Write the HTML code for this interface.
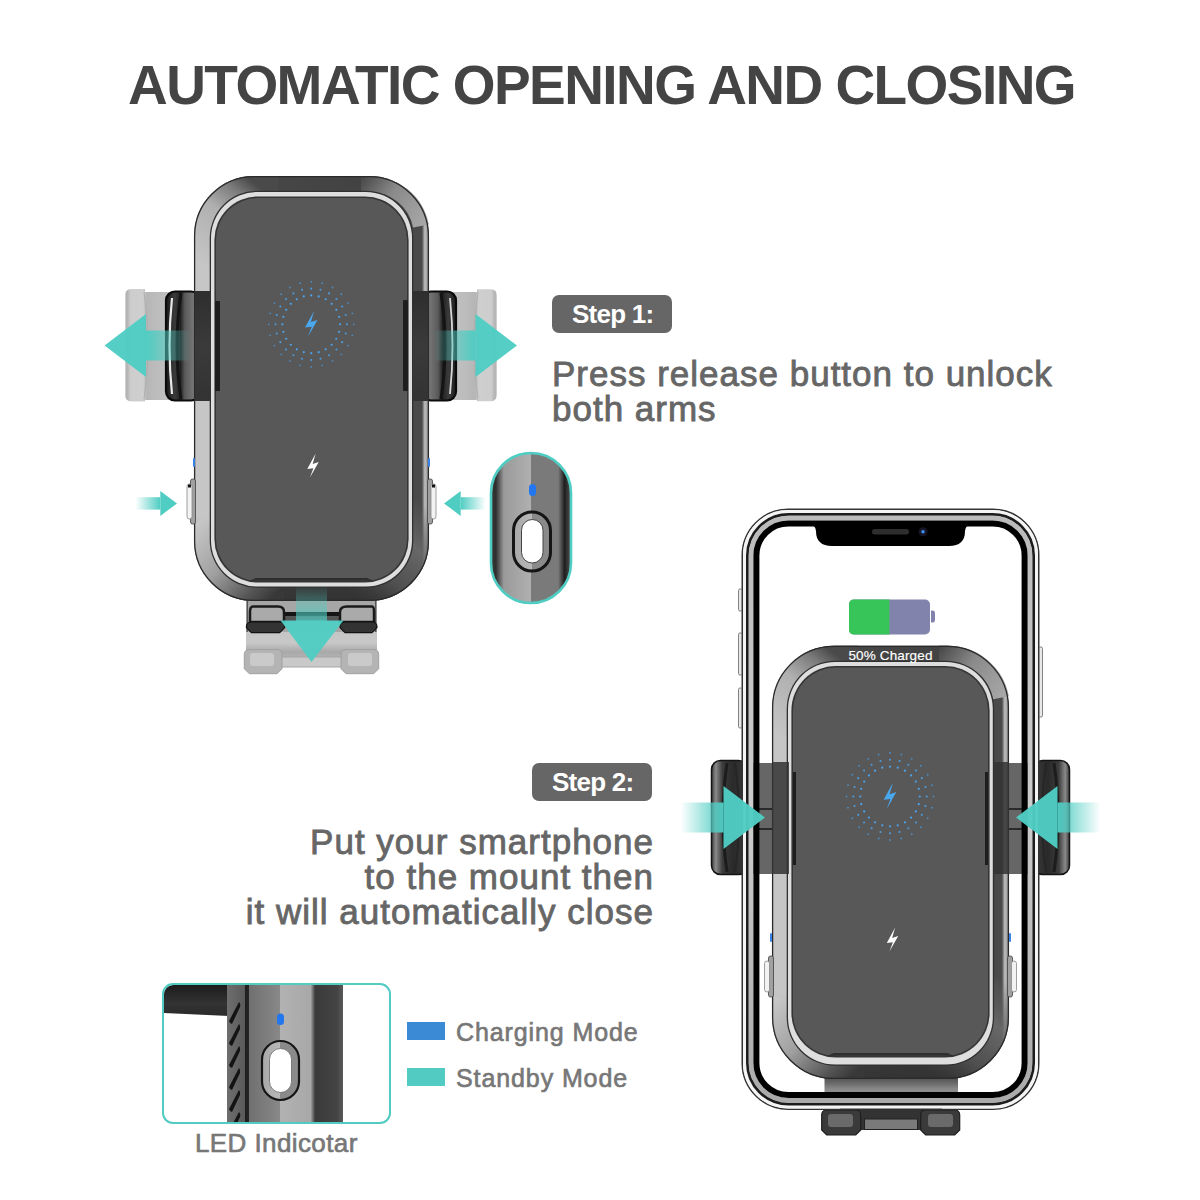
<!DOCTYPE html>
<html><head><meta charset="utf-8"><style>
html,body{margin:0;padding:0;}
body{width:1200px;height:1200px;background:#fff;position:relative;overflow:hidden;font-family:"Liberation Sans",sans-serif;}
svg{position:absolute;left:0;top:0;}
.t{position:absolute;white-space:nowrap;line-height:1;}
#title{left:128px;top:58px;font-size:55px;font-weight:bold;color:#444;letter-spacing:-1.55px;}
.badge{position:absolute;background:#666;border-radius:7px;color:#fff;font-weight:bold;}
#b1{left:552px;top:295px;width:120px;height:38px;}
#b2{left:532px;top:763px;width:120px;height:38px;}
.bt{position:absolute;font-size:26px;line-height:1;white-space:nowrap;letter-spacing:-0.75px;}
#s1{left:552px;top:356px;font-size:35px;color:#666;line-height:35px;letter-spacing:1px;-webkit-text-stroke:0.85px #666;}
#s2{right:546px;top:824px;font-size:35px;color:#666;line-height:35px;text-align:right;letter-spacing:1px;-webkit-text-stroke:0.85px #666;}
.lg{position:absolute;font-size:25px;color:#777;white-space:nowrap;line-height:1;letter-spacing:0.9px;-webkit-text-stroke:0.65px #777;}
.sw{position:absolute;left:407px;width:38px;height:18px;}
</style></head><body>
<svg width="1200" height="1200" viewBox="0 0 1200 1200">
<defs>
 <linearGradient id="frameL" x1="0" x2="1" y1="0" y2="0">
  <stop offset="0" stop-color="#c6c6c6"/>
  <stop offset="0.07" stop-color="#c6c6c6"/>
  <stop offset="0.14" stop-color="#9a9a9a"/>
  <stop offset="0.27" stop-color="#4a4a4a"/>
  <stop offset="0.75" stop-color="#454545"/>
  <stop offset="0.97" stop-color="#4a4a4a"/>
  <stop offset="0.982" stop-color="#bdbdbd"/>
  <stop offset="0.993" stop-color="#a0a0a0"/>
  <stop offset="1" stop-color="#555"/>
 </linearGradient>
 <linearGradient id="frameV" x1="0" x2="0" y1="0" y2="1">
  <stop offset="0" stop-color="#000" stop-opacity="0.05"/>
  <stop offset="0.12" stop-color="#000" stop-opacity="0"/>
  <stop offset="0.8" stop-color="#000" stop-opacity="0"/>
  <stop offset="0.93" stop-color="#000" stop-opacity="0.18"/>
  <stop offset="1" stop-color="#000" stop-opacity="0.28"/>
 </linearGradient>
 <linearGradient id="shL" x1="0" x2="1"><stop offset="0" stop-color="#50cdc3" stop-opacity="1"/><stop offset="1" stop-color="#50cdc3" stop-opacity="0"/></linearGradient>
 <linearGradient id="shR" x1="0" x2="1"><stop offset="0" stop-color="#50cdc3" stop-opacity="0"/><stop offset="1" stop-color="#50cdc3" stop-opacity="1"/></linearGradient>
 <linearGradient id="shD" x1="0" x2="0" y1="0" y2="1"><stop offset="0" stop-color="#50cdc3" stop-opacity="0"/><stop offset="1" stop-color="#50cdc3" stop-opacity="0.75"/></linearGradient>
 <linearGradient id="ghost" x1="0" x2="1"><stop offset="0" stop-color="#d4d4d4"/><stop offset="0.5" stop-color="#c4c4c4"/><stop offset="1" stop-color="#bdbdbd"/></linearGradient>
 <linearGradient id="grip" x1="0" x2="1"><stop offset="0" stop-color="#111"/><stop offset="0.15" stop-color="#e8e8e8"/><stop offset="0.3" stop-color="#555"/><stop offset="0.6" stop-color="#2a2a2a"/><stop offset="1" stop-color="#4a4a4a"/></linearGradient>
 <linearGradient id="gripR" x1="1" x2="0"><stop offset="0" stop-color="#111"/><stop offset="0.15" stop-color="#e8e8e8"/><stop offset="0.3" stop-color="#555"/><stop offset="0.6" stop-color="#2a2a2a"/><stop offset="1" stop-color="#4a4a4a"/></linearGradient>
 <linearGradient id="pill" x1="0" x2="1">
  <stop offset="0" stop-color="#3a3a3a"/><stop offset="0.06" stop-color="#2e2e2e"/><stop offset="0.16" stop-color="#9a9a9a"/>
  <stop offset="0.5" stop-color="#b0b0b0"/><stop offset="0.5" stop-color="#7a7a7a"/><stop offset="0.84" stop-color="#7a7a7a"/>
  <stop offset="0.92" stop-color="#1e1e1e"/><stop offset="1" stop-color="#555"/>
 </linearGradient>
 <linearGradient id="btnring" x1="0" x2="1"><stop offset="0" stop-color="#a8a8a8"/><stop offset="0.5" stop-color="#b8b8b8"/><stop offset="0.5" stop-color="#8a8a8a"/><stop offset="1" stop-color="#8a8a8a"/></linearGradient>
 <linearGradient id="silverR" x1="0" x2="0" y1="0" y2="1"><stop offset="0" stop-color="#bbb"/><stop offset="0.5" stop-color="#ccc"/><stop offset="1" stop-color="#aaa"/></linearGradient>
 <linearGradient id="grip2L" x1="0" x2="1"><stop offset="0" stop-color="#3a3a3a"/><stop offset="0.12" stop-color="#8a8a8a"/><stop offset="0.3" stop-color="#3c3c3c"/><stop offset="0.6" stop-color="#2a2a2a"/><stop offset="1" stop-color="#3a3a3a"/></linearGradient>
 <linearGradient id="grip2R" x1="1" x2="0"><stop offset="0" stop-color="#3a3a3a"/><stop offset="0.12" stop-color="#8a8a8a"/><stop offset="0.3" stop-color="#3c3c3c"/><stop offset="0.6" stop-color="#2a2a2a"/><stop offset="1" stop-color="#3a3a3a"/></linearGradient>
 <linearGradient id="neck" x1="0" x2="0" y1="0" y2="1"><stop offset="0" stop-color="#4a4a4a"/><stop offset="0.3" stop-color="#6a6a6a"/><stop offset="0.55" stop-color="#8a8a8a"/><stop offset="1" stop-color="#8c8c8c"/></linearGradient>
 <linearGradient id="ghostTop" x1="0" x2="0" y1="0" y2="1"><stop offset="0" stop-color="#c4c4c4"/><stop offset="0.5" stop-color="#c8c8c8"/><stop offset="0.8" stop-color="#a8a8a8"/><stop offset="1" stop-color="#b5b5b5"/></linearGradient>
 <linearGradient id="bridge" x1="0" x2="0" y1="0" y2="1"><stop offset="0" stop-color="#2e2e2e"/><stop offset="0.5" stop-color="#3a3a3a"/><stop offset="1" stop-color="#333"/></linearGradient>
 <linearGradient id="silver" x1="0" x2="1"><stop offset="0" stop-color="#fff"/><stop offset="1" stop-color="#999"/></linearGradient>
 <linearGradient id="ledstrip" x1="0" x2="1">
  <stop offset="0" stop-color="#555"/><stop offset="1" stop-color="#444"/>
 </linearGradient>
</defs>
<linearGradient id="ghR" x1="0" x2="1"><stop offset="0" stop-color="#c6c6c6"/><stop offset="0.45" stop-color="#bcbcbc"/><stop offset="0.62" stop-color="#b6b6b6"/><stop offset="0.68" stop-color="#cfcfcf"/><stop offset="0.9" stop-color="#cdcdcd"/><stop offset="0.97" stop-color="#b0b0b0"/><stop offset="1" stop-color="#dadada"/></linearGradient><linearGradient id="ghL" x1="1" x2="0"><stop offset="0" stop-color="#c6c6c6"/><stop offset="0.45" stop-color="#bcbcbc"/><stop offset="0.62" stop-color="#b6b6b6"/><stop offset="0.68" stop-color="#cfcfcf"/><stop offset="0.9" stop-color="#cdcdcd"/><stop offset="0.97" stop-color="#b0b0b0"/><stop offset="1" stop-color="#dadada"/></linearGradient><path d="M440,292 L477,292 L477,289.2 L491,289.2 Q497,289.2 497,296 L497,394 Q497,401.3 491,401.3 L477,401.3 L477,400 L440,400 Z" fill="url(#ghR)"/><path d="M478,292 Q470,345 478,399" stroke="#aaa" stroke-width="1" fill="none" opacity="0.8"/><path d="M125.5,292 L145,292 L145,289.2 L131,289.2 Q125,289.2 125,296 L125,394 Q125,401.3 131,401.3 L145,401.3 L145,400 L182,400 L182,292 Z" fill="url(#ghL)"/><path d="M125,296 Q125,289.2 131,289.2 L145,289.2 L145,292 L182,292 L182,400 L145,400 L145,401.3 L131,401.3 Q125,401.3 125,394 Z" fill="url(#ghL)"/><path d="M144,292 Q152,345 144,399" stroke="#aaa" stroke-width="1" fill="none" opacity="0.8"/><rect x="246" y="628" width="131" height="30" fill="url(#ghostTop)"/><rect x="280" y="657" width="63" height="10" fill="#c9c9c9" stroke="#a5a5a5" stroke-width="1"/><path d="M249.3,649.6 L277,649.6 Q282,649.6 282,654.6 L282,668.7 L277,673.7 L249.3,673.7 L244.3,668.7 L244.3,654.6 Q244.3,649.6 249.3,649.6 Z" fill="#b4b4b4" stroke="#a0a0a0" stroke-width="1"/><rect x="250" y="653" width="24" height="13" rx="3" fill="#cacaca"/><path d="M346,649.6 L373.7,649.6 Q378.7,649.6 378.7,654.6 L378.7,668.7 L373.7,673.7 L346,673.7 L341,668.7 L341,654.6 Q341,649.6 346,649.6 Z" fill="#b4b4b4" stroke="#a0a0a0" stroke-width="1"/><rect x="348" y="653" width="24" height="13" rx="3" fill="#cacaca"/><rect x="246.5" y="598" width="130" height="34" fill="#a6a6a6"/><rect x="246.5" y="598" width="1.5" height="34" fill="#555"/><rect x="375" y="598" width="1.5" height="34" fill="#555"/><rect x="284" y="612" width="57" height="4" fill="#151515"/><rect x="284" y="616" width="57" height="5" fill="#555"/><path d="M253,606.5 L278,606.5 Q284,606.5 284,612 L284,622 L250,622 L250,612 Q250,606.5 253,606.5 Z" fill="#aaa" stroke="#1a1a1a" stroke-width="2.5"/><path d="M251.4,622 L279.7,622 Q284.7,622 284.7,627 L284.7,627.6 L279.7,632.6 L251.4,632.6 L246.4,627.6 L246.4,627 Q246.4,622 251.4,622 Z" fill="#333" stroke="#111" stroke-width="1.2"/><path d="M347,606.5 L372,606.5 Q374,606.5 374,612 L374,622 L340,622 L340,612 Q340,606.5 347,606.5 Z" fill="#aaa" stroke="#1a1a1a" stroke-width="2.5"/><path d="M345,622 L372,622 Q377,622 377,627 L377,627.6 L372,632.6 L345,632.6 L340,627.6 L340,627 Q340,622 345,622 Z" fill="#333" stroke="#111" stroke-width="1.2"/><linearGradient id="g1R" gradientUnits="userSpaceOnUse" x1="428" y1="0" x2="457" y2="0"><stop offset="0" stop-color="#7a7a7a"/><stop offset="0.35" stop-color="#5a5a5a"/><stop offset="0.5" stop-color="#222"/><stop offset="0.7" stop-color="#3a3a3a"/><stop offset="1" stop-color="#1a1a1a"/></linearGradient><linearGradient id="g1L" gradientUnits="userSpaceOnUse" x1="195" y1="0" x2="166" y2="0"><stop offset="0" stop-color="#7a7a7a"/><stop offset="0.35" stop-color="#5a5a5a"/><stop offset="0.5" stop-color="#222"/><stop offset="0.7" stop-color="#3a3a3a"/><stop offset="1" stop-color="#1a1a1a"/></linearGradient><rect x="166" y="291.5" width="34" height="109" rx="9" fill="url(#g1L)" stroke="#0a0a0a" stroke-width="2.2"/><path d="M181,293 Q173,346 181,399" stroke="#141414" stroke-width="3" fill="none"/><path d="M172,298 Q167,346 172,394" stroke="#e8e8e8" stroke-width="2.2" fill="none"/><rect x="422" y="291.5" width="34" height="109" rx="9" fill="url(#g1R)" stroke="#0a0a0a" stroke-width="2.2"/><path d="M441,293 Q449,346 441,399" stroke="#141414" stroke-width="3" fill="none"/><path d="M450,298 Q455,346 450,394" stroke="#d8d8d8" stroke-width="1.8" fill="none"/><rect x="194" y="176" width="235" height="425" rx="60" fill="url(#frameL)"/><rect x="194" y="176" width="235" height="425" rx="60" fill="url(#frameV)"/><linearGradient id="arc194" gradientUnits="userSpaceOnUse" x1="202" y1="266" x2="268" y2="180"><stop offset="0" stop-color="#c6c6c6"/><stop offset="0.5" stop-color="#b0b0b0"/><stop offset="0.75" stop-color="#7a7a7a"/><stop offset="0.9" stop-color="#4a4a4a"/></linearGradient><path d="M202,266 L202,236 A52,52 0 0 1 254,184 L278,184" stroke="url(#arc194)" stroke-width="16" fill="none"/><linearGradient id="arctr194" gradientUnits="userSpaceOnUse" x1="361" y1="178" x2="423" y2="222"><stop offset="0" stop-color="#474747"/><stop offset="0.45" stop-color="#8a8a8a"/><stop offset="1" stop-color="#a6a6a6"/></linearGradient><path d="M361,184 L369,184 A52,52 0 0 1 421,226" stroke="url(#arctr194)" stroke-width="16" fill="none"/><linearGradient id="arcbl194" gradientUnits="userSpaceOnUse" x1="202" y1="521" x2="284" y2="599"><stop offset="0" stop-color="#c6c6c6"/><stop offset="0.4" stop-color="#a0a0a0"/><stop offset="0.75" stop-color="#555"/><stop offset="0.92" stop-color="#383838"/></linearGradient><path d="M202,521 L202,541 A52,52 0 0 0 254,593 L284,593" stroke="url(#arcbl194)" stroke-width="16" fill="none"/><linearGradient id="arcbr194" gradientUnits="userSpaceOnUse" x1="421" y1="501" x2="349" y2="593"><stop offset="0" stop-color="#6a6a6a" stop-opacity="0"/><stop offset="0.35" stop-color="#6e6e6e" stop-opacity="0.85"/><stop offset="0.7" stop-color="#5a5a5a" stop-opacity="0.7"/><stop offset="1" stop-color="#444" stop-opacity="0"/></linearGradient><path d="M421,501 L421,541 A52,52 0 0 1 369,593 L349,593" stroke="url(#arcbr194)" stroke-width="16" fill="none"/><rect x="194.6" y="176.6" width="233.8" height="423.8" rx="59.4" fill="none" stroke="#2a2a2a" stroke-width="1.3"/><rect x="209.7" y="190.7" width="203.6" height="397.1" rx="47.3" fill="#303030"/><rect x="211" y="192" width="201" height="394.5" rx="46" fill="#dedede"/><rect x="214.4" y="196.4" width="194.2" height="386.2" rx="43.6" fill="#353535"/><rect x="216" y="198" width="191" height="383" rx="42" fill="#585858"/><path d="M255.9,578 L367.1,578 L373.4,580.7 L249.6,580.7 Z" fill="#2e2e2e"/><rect x="195" y="291" width="16" height="110" fill="url(#bridge)"/><rect x="413" y="291" width="15" height="110" fill="url(#bridge)"/><rect x="215" y="301" width="5" height="90" rx="1" fill="#1e1e1e"/><rect x="403" y="300" width="5" height="91" rx="1" fill="#1e1e1e"/><rect x="190.5" y="479" width="5" height="45" rx="2" fill="#a0a0a0" stroke="#444" stroke-width="0.8"/><rect x="187" y="484" width="5" height="35" rx="2.5" fill="#f2f2f2" stroke="#888" stroke-width="0.8"/><rect x="188" y="484.5" width="3" height="3" fill="#111"/><rect x="427.5" y="479" width="5" height="45" rx="2" fill="#a0a0a0" stroke="#444" stroke-width="0.8"/><rect x="431" y="484" width="5" height="35" rx="2.5" fill="#f2f2f2" stroke="#888" stroke-width="0.8"/><rect x="432" y="484.5" width="3" height="3" fill="#111"/><rect x="193" y="458" width="2" height="9" rx="1" fill="#3b82e6"/><rect x="428" y="458" width="2" height="9" rx="1" fill="#3b82e6"/><circle cx="311.25" cy="295.40" r="1.1" fill="#4aa3ec" opacity="1.0"/><circle cx="311.25" cy="288.60" r="1.05" fill="#4aa3ec" opacity="0.9"/><circle cx="311.25" cy="281.80" r="0.9" fill="#4aa3ec" opacity="0.7"/><circle cx="318.73" cy="296.38" r="1.1" fill="#4aa3ec" opacity="1.0"/><circle cx="320.49" cy="289.82" r="1.05" fill="#4aa3ec" opacity="0.9"/><circle cx="322.25" cy="283.25" r="0.9" fill="#4aa3ec" opacity="0.7"/><circle cx="325.70" cy="299.27" r="1.1" fill="#4aa3ec" opacity="1.0"/><circle cx="329.10" cy="293.38" r="1.05" fill="#4aa3ec" opacity="0.9"/><circle cx="332.50" cy="287.49" r="0.9" fill="#4aa3ec" opacity="0.7"/><circle cx="331.69" cy="303.86" r="1.1" fill="#4aa3ec" opacity="1.0"/><circle cx="336.49" cy="299.06" r="1.05" fill="#4aa3ec" opacity="0.9"/><circle cx="341.30" cy="294.25" r="0.9" fill="#4aa3ec" opacity="0.7"/><circle cx="336.28" cy="309.85" r="1.1" fill="#4aa3ec" opacity="1.0"/><circle cx="342.17" cy="306.45" r="1.05" fill="#4aa3ec" opacity="0.9"/><circle cx="348.06" cy="303.05" r="0.9" fill="#4aa3ec" opacity="0.7"/><circle cx="339.17" cy="316.82" r="1.1" fill="#4aa3ec" opacity="1.0"/><circle cx="345.73" cy="315.06" r="1.05" fill="#4aa3ec" opacity="0.9"/><circle cx="352.30" cy="313.30" r="0.9" fill="#4aa3ec" opacity="0.7"/><circle cx="340.15" cy="324.30" r="1.1" fill="#4aa3ec" opacity="1.0"/><circle cx="346.95" cy="324.30" r="1.05" fill="#4aa3ec" opacity="0.9"/><circle cx="353.75" cy="324.30" r="0.9" fill="#4aa3ec" opacity="0.7"/><circle cx="339.17" cy="331.78" r="1.1" fill="#4aa3ec" opacity="1.0"/><circle cx="345.73" cy="333.54" r="1.05" fill="#4aa3ec" opacity="0.9"/><circle cx="352.30" cy="335.30" r="0.9" fill="#4aa3ec" opacity="0.7"/><circle cx="336.28" cy="338.75" r="1.1" fill="#4aa3ec" opacity="1.0"/><circle cx="342.17" cy="342.15" r="1.05" fill="#4aa3ec" opacity="0.9"/><circle cx="348.06" cy="345.55" r="0.9" fill="#4aa3ec" opacity="0.7"/><circle cx="331.69" cy="344.74" r="1.1" fill="#4aa3ec" opacity="1.0"/><circle cx="336.49" cy="349.54" r="1.05" fill="#4aa3ec" opacity="0.9"/><circle cx="341.30" cy="354.35" r="0.9" fill="#4aa3ec" opacity="0.7"/><circle cx="325.70" cy="349.33" r="1.1" fill="#4aa3ec" opacity="1.0"/><circle cx="329.10" cy="355.22" r="1.05" fill="#4aa3ec" opacity="0.9"/><circle cx="332.50" cy="361.11" r="0.9" fill="#4aa3ec" opacity="0.7"/><circle cx="318.73" cy="352.22" r="1.1" fill="#4aa3ec" opacity="1.0"/><circle cx="320.49" cy="358.78" r="1.05" fill="#4aa3ec" opacity="0.9"/><circle cx="322.25" cy="365.35" r="0.9" fill="#4aa3ec" opacity="0.7"/><circle cx="311.25" cy="353.20" r="1.1" fill="#4aa3ec" opacity="1.0"/><circle cx="311.25" cy="360.00" r="1.05" fill="#4aa3ec" opacity="0.9"/><circle cx="311.25" cy="366.80" r="0.9" fill="#4aa3ec" opacity="0.7"/><circle cx="303.77" cy="352.22" r="1.1" fill="#4aa3ec" opacity="1.0"/><circle cx="302.01" cy="358.78" r="1.05" fill="#4aa3ec" opacity="0.9"/><circle cx="300.25" cy="365.35" r="0.9" fill="#4aa3ec" opacity="0.7"/><circle cx="296.80" cy="349.33" r="1.1" fill="#4aa3ec" opacity="1.0"/><circle cx="293.40" cy="355.22" r="1.05" fill="#4aa3ec" opacity="0.9"/><circle cx="290.00" cy="361.11" r="0.9" fill="#4aa3ec" opacity="0.7"/><circle cx="290.81" cy="344.74" r="1.1" fill="#4aa3ec" opacity="1.0"/><circle cx="286.01" cy="349.54" r="1.05" fill="#4aa3ec" opacity="0.9"/><circle cx="281.20" cy="354.35" r="0.9" fill="#4aa3ec" opacity="0.7"/><circle cx="286.22" cy="338.75" r="1.1" fill="#4aa3ec" opacity="1.0"/><circle cx="280.33" cy="342.15" r="1.05" fill="#4aa3ec" opacity="0.9"/><circle cx="274.44" cy="345.55" r="0.9" fill="#4aa3ec" opacity="0.7"/><circle cx="283.33" cy="331.78" r="1.1" fill="#4aa3ec" opacity="1.0"/><circle cx="276.77" cy="333.54" r="1.05" fill="#4aa3ec" opacity="0.9"/><circle cx="270.20" cy="335.30" r="0.9" fill="#4aa3ec" opacity="0.7"/><circle cx="282.35" cy="324.30" r="1.1" fill="#4aa3ec" opacity="1.0"/><circle cx="275.55" cy="324.30" r="1.05" fill="#4aa3ec" opacity="0.9"/><circle cx="268.75" cy="324.30" r="0.9" fill="#4aa3ec" opacity="0.7"/><circle cx="283.33" cy="316.82" r="1.1" fill="#4aa3ec" opacity="1.0"/><circle cx="276.77" cy="315.06" r="1.05" fill="#4aa3ec" opacity="0.9"/><circle cx="270.20" cy="313.30" r="0.9" fill="#4aa3ec" opacity="0.7"/><circle cx="286.22" cy="309.85" r="1.1" fill="#4aa3ec" opacity="1.0"/><circle cx="280.33" cy="306.45" r="1.05" fill="#4aa3ec" opacity="0.9"/><circle cx="274.44" cy="303.05" r="0.9" fill="#4aa3ec" opacity="0.7"/><circle cx="290.81" cy="303.86" r="1.1" fill="#4aa3ec" opacity="1.0"/><circle cx="286.01" cy="299.06" r="1.05" fill="#4aa3ec" opacity="0.9"/><circle cx="281.20" cy="294.25" r="0.9" fill="#4aa3ec" opacity="0.7"/><circle cx="296.80" cy="299.27" r="1.1" fill="#4aa3ec" opacity="1.0"/><circle cx="293.40" cy="293.38" r="1.05" fill="#4aa3ec" opacity="0.9"/><circle cx="290.00" cy="287.49" r="0.9" fill="#4aa3ec" opacity="0.7"/><circle cx="303.77" cy="296.38" r="1.1" fill="#4aa3ec" opacity="1.0"/><circle cx="302.01" cy="289.82" r="1.05" fill="#4aa3ec" opacity="0.9"/><circle cx="300.25" cy="283.25" r="0.9" fill="#4aa3ec" opacity="0.7"/><path d="M314.15,310.80 L310.85,322.10 L317.45,320.00 L307.95,336.70 L311.65,326.70 L305.05,327.50 Z" fill="#4aa8f0"/><path d="M315.67,453.58 L312.63,463.98 L318.70,462.04 L309.96,477.41 L313.37,468.21 L307.30,468.94 Z" fill="#ffffff"/><rect x="146.0" y="330.5" width="45" height="30" fill="url(#shL)"/><path d="M104.5,345.5 L146.0,314.0 L146.0,377.0 Z" fill="#50cdc3" opacity="0.97"/><rect x="433.5" y="330.5" width="42" height="30" fill="url(#shR)"/><path d="M517,345.5 L475.5,314.0 L475.5,377.0 Z" fill="#50cdc3" opacity="0.97"/><rect x="135.3" y="497.2" width="25" height="12.4" fill="url(#shR)"/><path d="M177,503.4 L160.3,490.9 L160.3,515.9 Z" fill="#50cdc3"/><rect x="460.7" y="497.2" width="25" height="12.4" fill="url(#shL)"/><path d="M444,503.4 L460.7,490.9 L460.7,515.9 Z" fill="#50cdc3"/><rect x="296" y="585" width="31" height="36" fill="url(#shD)"/><path d="M280.5,620.5 L343.5,620.5 L311.5,662 Z" fill="#50cdc3" opacity="0.95"/><rect x="491" y="453" width="80" height="150" rx="40" fill="url(#pill)" stroke="#50cdc3" stroke-width="2.6"/><rect x="529" y="484" width="7" height="12" rx="3.5" fill="#2277ee"/><rect x="513.5" y="512" width="37" height="59" rx="18.5" fill="url(#btnring)" stroke="#151515" stroke-width="3"/><rect x="521.5" y="519.5" width="21.5" height="43.5" rx="10.75" fill="#fff" stroke="#444" stroke-width="1"/><rect x="738.5" y="589" width="4" height="22" rx="1.5" fill="#e8e8e8" stroke="#666" stroke-width="0.8"/><rect x="738.5" y="633" width="4" height="42" rx="1.5" fill="#e8e8e8" stroke="#666" stroke-width="0.8"/><rect x="738.5" y="688" width="4" height="40" rx="1.5" fill="#e8e8e8" stroke="#666" stroke-width="0.8"/><rect x="1038.5" y="647" width="4" height="70" rx="1.5" fill="#e8e8e8" stroke="#666" stroke-width="0.8"/><rect x="741.5" y="508.5" width="298.0" height="601.5" rx="46" fill="#fff"/><rect x="711.5" y="760.5" width="36" height="114" rx="9" fill="url(#grip2L)" stroke="#141414" stroke-width="1.5"/><path d="M727,763 Q719,817 727,872" stroke="#1c1c1c" stroke-width="3" fill="none"/><path d="M735,763 Q743,817 735,872" stroke="#262626" stroke-width="2" fill="none"/><rect x="1033.5" y="760.5" width="36" height="114" rx="9" fill="url(#grip2R)" stroke="#141414" stroke-width="1.5"/><path d="M1054,763 Q1062,817 1054,872" stroke="#1c1c1c" stroke-width="3" fill="none"/><path d="M1046,763 Q1038,817 1046,872" stroke="#262626" stroke-width="2" fill="none"/><rect x="742" y="763" width="34" height="111" fill="#666"/><rect x="742" y="808" width="34" height="2" fill="#2a2a2a"/><rect x="742" y="828" width="34" height="2" fill="#2a2a2a"/><rect x="1005" y="763" width="34" height="111" fill="#666"/><rect x="1005" y="808" width="34" height="2" fill="#2a2a2a"/><rect x="1005" y="828" width="34" height="2" fill="#2a2a2a"/><rect x="824.5" y="1076" width="133.5" height="24" fill="url(#neck)"/><rect x="772" y="645.8" width="237" height="433.2" rx="62" fill="url(#frameL)"/><rect x="772" y="645.8" width="237" height="433.2" rx="62" fill="url(#frameV)"/><linearGradient id="arc772" gradientUnits="userSpaceOnUse" x1="780" y1="737.8" x2="848" y2="649.8"><stop offset="0" stop-color="#c6c6c6"/><stop offset="0.5" stop-color="#b0b0b0"/><stop offset="0.75" stop-color="#7a7a7a"/><stop offset="0.9" stop-color="#4a4a4a"/></linearGradient><path d="M780,737.8 L780,707.8 A54,54 0 0 1 834,653.8 L858,653.8" stroke="url(#arc772)" stroke-width="16" fill="none"/><linearGradient id="arctr772" gradientUnits="userSpaceOnUse" x1="939" y1="647.8" x2="1003" y2="693.8"><stop offset="0" stop-color="#474747"/><stop offset="0.45" stop-color="#8a8a8a"/><stop offset="1" stop-color="#a6a6a6"/></linearGradient><path d="M939,653.8 L947,653.8 A54,54 0 0 1 1001,697.8" stroke="url(#arctr772)" stroke-width="16" fill="none"/><linearGradient id="arcbl772" gradientUnits="userSpaceOnUse" x1="780" y1="997.0" x2="864" y2="1077.0"><stop offset="0" stop-color="#c6c6c6"/><stop offset="0.4" stop-color="#a0a0a0"/><stop offset="0.75" stop-color="#555"/><stop offset="0.92" stop-color="#383838"/></linearGradient><path d="M780,997.0 L780,1017.0 A54,54 0 0 0 834,1071.0 L864,1071.0" stroke="url(#arcbl772)" stroke-width="16" fill="none"/><linearGradient id="arcbr772" gradientUnits="userSpaceOnUse" x1="1001" y1="977.0" x2="927" y2="1071.0"><stop offset="0" stop-color="#6a6a6a" stop-opacity="0"/><stop offset="0.35" stop-color="#6e6e6e" stop-opacity="0.85"/><stop offset="0.7" stop-color="#5a5a5a" stop-opacity="0.7"/><stop offset="1" stop-color="#444" stop-opacity="0"/></linearGradient><path d="M1001,977.0 L1001,1017.0 A54,54 0 0 1 947,1071.0 L927,1071.0" stroke="url(#arcbr772)" stroke-width="16" fill="none"/><rect x="772.6" y="646.4" width="235.8" height="432.0" rx="61.4" fill="none" stroke="#2a2a2a" stroke-width="1.3"/><rect x="786.7" y="660.7" width="207.4" height="405.1" rx="48.3" fill="#303030"/><rect x="788" y="662" width="204.8" height="402.5" rx="47" fill="#dedede"/><rect x="791.4" y="665.9" width="198.2" height="391.7" rx="44.6" fill="#353535"/><rect x="793" y="667.5" width="195" height="388.5" rx="43" fill="#585858"/><path d="M833.85,1053.0 L947.15,1053.0 L953.6,1055.7 L827.4,1055.7 Z" fill="#2e2e2e"/><rect x="793" y="772" width="3" height="93" fill="#1e1e1e"/><rect x="985" y="772" width="3" height="93" fill="#1e1e1e"/><rect x="772" y="762" width="17" height="112" fill="#333" opacity="0.85"/><rect x="993" y="762" width="16" height="112" fill="#333" opacity="0.85"/><rect x="768.5" y="956" width="5" height="41" rx="2" fill="#a0a0a0" stroke="#444" stroke-width="0.8"/><rect x="764.5" y="961" width="5" height="31" rx="2.5" fill="#f2f2f2" stroke="#888" stroke-width="0.8"/><rect x="1007.5" y="956" width="5" height="41" rx="2" fill="#a0a0a0" stroke="#444" stroke-width="0.8"/><rect x="1011.5" y="961" width="5" height="31" rx="2.5" fill="#f2f2f2" stroke="#888" stroke-width="0.8"/><rect x="770" y="933" width="2" height="9" rx="1" fill="#3b82e6"/><rect x="1009" y="933" width="2" height="9" rx="1" fill="#3b82e6"/><circle cx="890.00" cy="766.70" r="1.1" fill="#4aa3ec" opacity="1.0"/><circle cx="890.00" cy="759.80" r="1.05" fill="#4aa3ec" opacity="0.9"/><circle cx="890.00" cy="753.00" r="0.9" fill="#4aa3ec" opacity="0.7"/><circle cx="897.71" cy="767.72" r="1.1" fill="#4aa3ec" opacity="1.0"/><circle cx="899.50" cy="761.05" r="1.05" fill="#4aa3ec" opacity="0.9"/><circle cx="901.26" cy="754.48" r="0.9" fill="#4aa3ec" opacity="0.7"/><circle cx="904.90" cy="770.69" r="1.1" fill="#4aa3ec" opacity="1.0"/><circle cx="908.35" cy="764.72" r="1.05" fill="#4aa3ec" opacity="0.9"/><circle cx="911.75" cy="758.83" r="0.9" fill="#4aa3ec" opacity="0.7"/><circle cx="911.07" cy="775.43" r="1.1" fill="#4aa3ec" opacity="1.0"/><circle cx="915.95" cy="770.55" r="1.05" fill="#4aa3ec" opacity="0.9"/><circle cx="920.76" cy="765.74" r="0.9" fill="#4aa3ec" opacity="0.7"/><circle cx="915.81" cy="781.60" r="1.1" fill="#4aa3ec" opacity="1.0"/><circle cx="921.78" cy="778.15" r="1.05" fill="#4aa3ec" opacity="0.9"/><circle cx="927.67" cy="774.75" r="0.9" fill="#4aa3ec" opacity="0.7"/><circle cx="918.78" cy="788.79" r="1.1" fill="#4aa3ec" opacity="1.0"/><circle cx="925.45" cy="787.00" r="1.05" fill="#4aa3ec" opacity="0.9"/><circle cx="932.02" cy="785.24" r="0.9" fill="#4aa3ec" opacity="0.7"/><circle cx="919.80" cy="796.50" r="1.1" fill="#4aa3ec" opacity="1.0"/><circle cx="926.70" cy="796.50" r="1.05" fill="#4aa3ec" opacity="0.9"/><circle cx="933.50" cy="796.50" r="0.9" fill="#4aa3ec" opacity="0.7"/><circle cx="918.78" cy="804.21" r="1.1" fill="#4aa3ec" opacity="1.0"/><circle cx="925.45" cy="806.00" r="1.05" fill="#4aa3ec" opacity="0.9"/><circle cx="932.02" cy="807.76" r="0.9" fill="#4aa3ec" opacity="0.7"/><circle cx="915.81" cy="811.40" r="1.1" fill="#4aa3ec" opacity="1.0"/><circle cx="921.78" cy="814.85" r="1.05" fill="#4aa3ec" opacity="0.9"/><circle cx="927.67" cy="818.25" r="0.9" fill="#4aa3ec" opacity="0.7"/><circle cx="911.07" cy="817.57" r="1.1" fill="#4aa3ec" opacity="1.0"/><circle cx="915.95" cy="822.45" r="1.05" fill="#4aa3ec" opacity="0.9"/><circle cx="920.76" cy="827.26" r="0.9" fill="#4aa3ec" opacity="0.7"/><circle cx="904.90" cy="822.31" r="1.1" fill="#4aa3ec" opacity="1.0"/><circle cx="908.35" cy="828.28" r="1.05" fill="#4aa3ec" opacity="0.9"/><circle cx="911.75" cy="834.17" r="0.9" fill="#4aa3ec" opacity="0.7"/><circle cx="897.71" cy="825.28" r="1.1" fill="#4aa3ec" opacity="1.0"/><circle cx="899.50" cy="831.95" r="1.05" fill="#4aa3ec" opacity="0.9"/><circle cx="901.26" cy="838.52" r="0.9" fill="#4aa3ec" opacity="0.7"/><circle cx="890.00" cy="826.30" r="1.1" fill="#4aa3ec" opacity="1.0"/><circle cx="890.00" cy="833.20" r="1.05" fill="#4aa3ec" opacity="0.9"/><circle cx="890.00" cy="840.00" r="0.9" fill="#4aa3ec" opacity="0.7"/><circle cx="882.29" cy="825.28" r="1.1" fill="#4aa3ec" opacity="1.0"/><circle cx="880.50" cy="831.95" r="1.05" fill="#4aa3ec" opacity="0.9"/><circle cx="878.74" cy="838.52" r="0.9" fill="#4aa3ec" opacity="0.7"/><circle cx="875.10" cy="822.31" r="1.1" fill="#4aa3ec" opacity="1.0"/><circle cx="871.65" cy="828.28" r="1.05" fill="#4aa3ec" opacity="0.9"/><circle cx="868.25" cy="834.17" r="0.9" fill="#4aa3ec" opacity="0.7"/><circle cx="868.93" cy="817.57" r="1.1" fill="#4aa3ec" opacity="1.0"/><circle cx="864.05" cy="822.45" r="1.05" fill="#4aa3ec" opacity="0.9"/><circle cx="859.24" cy="827.26" r="0.9" fill="#4aa3ec" opacity="0.7"/><circle cx="864.19" cy="811.40" r="1.1" fill="#4aa3ec" opacity="1.0"/><circle cx="858.22" cy="814.85" r="1.05" fill="#4aa3ec" opacity="0.9"/><circle cx="852.33" cy="818.25" r="0.9" fill="#4aa3ec" opacity="0.7"/><circle cx="861.22" cy="804.21" r="1.1" fill="#4aa3ec" opacity="1.0"/><circle cx="854.55" cy="806.00" r="1.05" fill="#4aa3ec" opacity="0.9"/><circle cx="847.98" cy="807.76" r="0.9" fill="#4aa3ec" opacity="0.7"/><circle cx="860.20" cy="796.50" r="1.1" fill="#4aa3ec" opacity="1.0"/><circle cx="853.30" cy="796.50" r="1.05" fill="#4aa3ec" opacity="0.9"/><circle cx="846.50" cy="796.50" r="0.9" fill="#4aa3ec" opacity="0.7"/><circle cx="861.22" cy="788.79" r="1.1" fill="#4aa3ec" opacity="1.0"/><circle cx="854.55" cy="787.00" r="1.05" fill="#4aa3ec" opacity="0.9"/><circle cx="847.98" cy="785.24" r="0.9" fill="#4aa3ec" opacity="0.7"/><circle cx="864.19" cy="781.60" r="1.1" fill="#4aa3ec" opacity="1.0"/><circle cx="858.22" cy="778.15" r="1.05" fill="#4aa3ec" opacity="0.9"/><circle cx="852.33" cy="774.75" r="0.9" fill="#4aa3ec" opacity="0.7"/><circle cx="868.93" cy="775.43" r="1.1" fill="#4aa3ec" opacity="1.0"/><circle cx="864.05" cy="770.55" r="1.05" fill="#4aa3ec" opacity="0.9"/><circle cx="859.24" cy="765.74" r="0.9" fill="#4aa3ec" opacity="0.7"/><circle cx="875.10" cy="770.69" r="1.1" fill="#4aa3ec" opacity="1.0"/><circle cx="871.65" cy="764.72" r="1.05" fill="#4aa3ec" opacity="0.9"/><circle cx="868.25" cy="758.83" r="0.9" fill="#4aa3ec" opacity="0.7"/><circle cx="882.29" cy="767.72" r="1.1" fill="#4aa3ec" opacity="1.0"/><circle cx="880.50" cy="761.05" r="1.05" fill="#4aa3ec" opacity="0.9"/><circle cx="878.74" cy="754.48" r="0.9" fill="#4aa3ec" opacity="0.7"/><path d="M892.96,782.73 L889.59,794.26 L896.32,792.11 L886.63,809.15 L890.41,798.95 L883.68,799.76 Z" fill="#4aa8f0"/><path d="M895.17,927.58 L892.13,937.98 L898.20,936.04 L889.46,951.41 L892.87,942.21 L886.80,942.94 Z" fill="#ffffff"/><rect x="840" y="1108" width="102" height="22" fill="#333"/><rect x="864.5" y="1119" width="53" height="10.5" fill="#7a7a7a" stroke="#222" stroke-width="1"/><path d="M826.7,1110 L855.7,1110 Q860.7,1110 860.7,1115 L860.7,1130 L855.7,1135 L826.7,1135 L821.7,1130 L821.7,1115 Q821.7,1110 826.7,1110 Z" fill="#3a3a3a" stroke="#1e1e1e" stroke-width="1.2"/><rect x="828" y="1114" width="25" height="13" rx="3" fill="#6a6a6a"/><path d="M925.7,1110 L954.7,1110 Q959.7,1110 959.7,1115 L959.7,1130 L954.7,1135 L925.7,1135 L920.7,1130 L920.7,1115 Q920.7,1110 925.7,1110 Z" fill="#3a3a3a" stroke="#1e1e1e" stroke-width="1.2"/><rect x="928" y="1114" width="25" height="13" rx="3" fill="#6a6a6a"/><rect x="742.25" y="509.25" width="296.5" height="600.0" rx="46" fill="none" stroke="#333" stroke-width="1.5"/><rect x="744.5" y="511.5" width="292.0" height="595.5" rx="44" fill="none" stroke="#f4f4f4" stroke-width="3"/><rect x="747.5" y="514.5" width="286.0" height="589.5" rx="41" fill="none" stroke="#1c1c1c" stroke-width="3"/><rect x="751.0" y="518.0" width="279.0" height="582.5" rx="38" fill="none" stroke="url(#silverR)" stroke-width="5"/><rect x="756.4" y="523.4" width="268.2" height="571.7" rx="32" fill="none" stroke="#000" stroke-width="6"/><path d="M808,524 L973,524 Q965,525 965,531 Q965,546 949,546 L832,546 Q816,546 816,531 Q816,525 808,524 Z" fill="#000"/><rect x="872" y="529" width="37" height="5.5" rx="2.75" fill="#2e2e2e"/><circle cx="923" cy="531.7" r="4.5" fill="#151525"/><circle cx="923" cy="531.7" r="1.8" fill="#3a8ef0"/><rect x="849" y="599.5" width="81" height="35" rx="5" fill="#8283ad"/><path d="M854,599.5 L889.5,599.5 L889.5,634.5 L854,634.5 Q849,634.5 849,629.5 L849,604.5 Q849,599.5 854,599.5 Z" fill="#37c55a"/><path d="M931,610.5 L933,610.5 Q935,610.5 935,613 L935,620 Q935,622.5 933,622.5 L931,622.5 Z" fill="#8283ad"/><text x="890.5" y="660" font-family="Liberation Sans" font-size="13.5" fill="#fff" stroke="#fff" stroke-width="0.15" letter-spacing="0.15" text-anchor="middle">50% Charged</text><rect x="680.5" y="802.5" width="43" height="30" fill="url(#shR)"/><path d="M765,817.5 L723.5,786.0 L723.5,849.0 Z" fill="#50cdc3" opacity="0.97"/><rect x="1057.5" y="802.5" width="43" height="30" fill="url(#shL)"/><path d="M1016,817.5 L1057.5,786.0 L1057.5,849.0 Z" fill="#50cdc3" opacity="0.97"/><clipPath id="ledclip"><rect x="164" y="985" width="225" height="137" rx="9"/></clipPath><linearGradient id="ledbar" x1="0" x2="0" y1="0" y2="1"><stop offset="0" stop-color="#1c1c1c"/><stop offset="0.6" stop-color="#333"/><stop offset="1" stop-color="#2a2a2a"/></linearGradient><linearGradient id="ledbands" gradientUnits="userSpaceOnUse" x1="227" y1="0" x2="343" y2="0"><stop offset="0" stop-color="#6e6e6e"/><stop offset="0.155" stop-color="#5a5a5a"/><stop offset="0.155" stop-color="#1e1e1e"/><stop offset="0.19" stop-color="#262626"/><stop offset="0.19" stop-color="#707070"/><stop offset="0.455" stop-color="#888"/><stop offset="0.455" stop-color="#b2b2b2"/><stop offset="0.72" stop-color="#a8a8a8"/><stop offset="0.76" stop-color="#3a3a3a"/><stop offset="0.95" stop-color="#444"/><stop offset="1" stop-color="#5a5a5a"/></linearGradient><g clip-path="url(#ledclip)"><path d="M164,985 L229,985 L229,1016 L164,1013 Z" fill="url(#ledbar)"/><rect x="227" y="985" width="116" height="140" fill="url(#ledbands)"/><path d="M239,1002 Q241,1004 240,1007 L232,1024 Q230,1024 229,1021 Z" fill="#141414"/><path d="M239,1024 Q241,1026 240,1029 L232,1046 Q230,1046 229,1043 Z" fill="#141414"/><path d="M239,1046 Q241,1048 240,1051 L232,1068 Q230,1068 229,1065 Z" fill="#141414"/><path d="M239,1068 Q241,1070 240,1073 L232,1090 Q230,1090 229,1087 Z" fill="#141414"/><path d="M239,1090 Q241,1092 240,1095 L232,1112 Q230,1112 229,1109 Z" fill="#141414"/><path d="M239,1112 Q241,1114 240,1117 L232,1134 Q230,1134 229,1131 Z" fill="#141414"/><rect x="277" y="1013.5" width="7" height="11.5" rx="3.5" fill="#2277ee"/><rect x="262" y="1041" width="37" height="59" rx="18.5" fill="url(#btnring)" stroke="#151515" stroke-width="2.2"/><rect x="269.5" y="1048.5" width="22" height="44" rx="11" fill="#fff" stroke="#666" stroke-width="0.8"/></g></svg>
<div class="t" id="title">AUTOMATIC OPENING AND CLOSING</div>
<div class="badge" id="b1"><span class="bt" style="left:20px;top:6px">Step 1:</span></div>
<div class="badge" id="b2"><span class="bt" style="left:20px;top:6px">Step 2:</span></div>
<div class="t" id="s1">Press release button to unlock<br>both arms</div>
<div class="t" id="s2">Put your smartphone<br>to the mount then<br>it will automatically close</div>
<div class="sw" style="top:1022px;background:#3a8ad6"></div>
<div class="sw" style="top:1068px;background:#52cbc2"></div>
<div class="lg" style="left:456px;top:1020px">Charging Mode</div>
<div class="lg" style="left:456px;top:1066px">Standby Mode</div>
<div class="lg" style="left:195px;top:1130px;font-size:26px;letter-spacing:0.4px">LED Indicotar</div>
<div style="position:absolute;left:162px;top:983px;width:225px;height:137px;border:2px solid #52cbc2;border-radius:11px"></div>
</body></html>
